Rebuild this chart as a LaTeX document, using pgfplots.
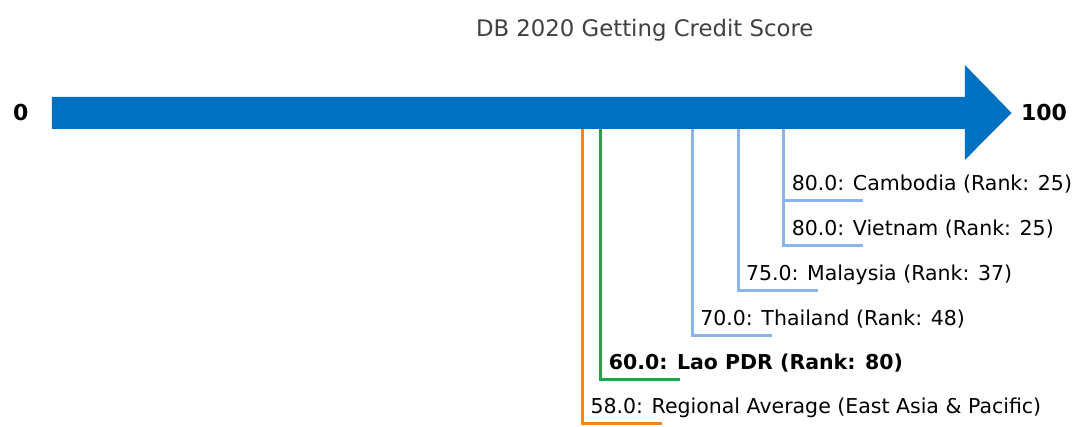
\documentclass[border=0pt]{standalone}
\usepackage{fontspec}
\setmainfont{DejaVu Sans}
\usepackage{pgfplots}
\pgfplotsset{compat=1.18}
\definecolor{arrowblue}{HTML}{0070C0}
\definecolor{lightblue}{HTML}{8AB4F0}
\definecolor{laogreen}{HTML}{2E9E48}
\definecolor{regorange}{HTML}{F5841F}
\definecolor{titlegray}{HTML}{404040}

\begin{document}
\begin{tikzpicture}
\begin{axis}[
  hide axis,
  scale only axis,
  width=536pt, height=213.5pt,
  xmin=-5.683, xmax=111.475,
  ymin=-427, ymax=0,
  clip=false,
]
\path (rel axis cs:0,0) rectangle (rel axis cs:1,1);
% leader lines: (score, arrow) down to label level, then right
\addplot[regorange, line width=1.5pt] coordinates {(58,-113) (58,-424) (66.7,-424)};
\addplot[laogreen, line width=1.5pt] coordinates {(60,-113) (60,-380) (68.7,-380)};
\addplot[lightblue, line width=1.5pt] coordinates {(70,-113) (70,-336) (78.7,-336)};
\addplot[lightblue, line width=1.5pt] coordinates {(75,-113) (75,-291) (83.7,-291)};
\addplot[lightblue, line width=1.5pt] coordinates {(80,-113) (80,-246) (88.7,-246)};
\addplot[lightblue, line width=1.5pt] coordinates {(80,-113) (80,-201) (88.7,-201)};
% the arrow
\addplot[fill=arrowblue, draw=none] coordinates {(0,-97) (99.8,-97) (99.8,-65) (104.9,-113) (99.8,-160) (99.8,-129) (0,-129)} -- cycle;

\tikzset{lbl/.style={anchor=base west, inner sep=0pt, xshift=3.8pt, font=\fontsize{10.25}{12}\selectfont}}
\node[lbl] at (axis cs:80,-190.5) {80.0: Cambodia (Rank: 25)};
\node[lbl] at (axis cs:80,-235.5) {80.0: Vietnam (Rank: 25)};
\node[lbl] at (axis cs:75,-280.5) {75.0: Malaysia (Rank: 37)};
\node[lbl] at (axis cs:70,-325.5) {70.0: Thailand (Rank: 48)};
\node[lbl, font=\fontsize{10.25}{12}\selectfont\bfseries] at (axis cs:60,-369.5) {60.0: Lao PDR (Rank: 80)};
\node[lbl] at (axis cs:58,-413.5) {58.0: Regional Average (East Asia \& Pacific)};

\node[font=\fontsize{11}{13}\selectfont\bfseries] at (axis cs:-3.4,-113) {0};
\node[anchor=west, inner sep=0pt, font=\fontsize{11}{13}\selectfont\bfseries] at (axis cs:105.9,-113) {100};
\node[text=titlegray, font=\fontsize{11.4}{13}\selectfont] at (axis cs:64.8,-30) {DB 2020 Getting Credit Score};
\end{axis}
\end{tikzpicture}
\end{document}
